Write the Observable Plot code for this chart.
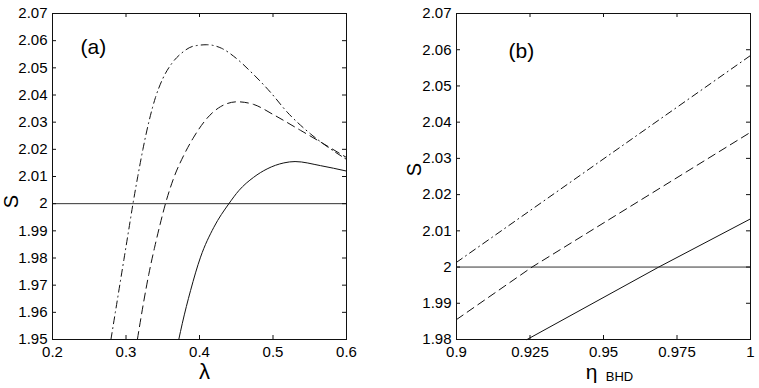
<!DOCTYPE html>
<html>
<head>
<meta charset="utf-8">
<script src="https://cdn.jsdelivr.net/npm/d3@7"></script>
<script src="https://cdn.jsdelivr.net/npm/@observablehq/plot@0.6"></script>
<style>
  html, body { margin: 0; padding: 0; background: #fff; }
  #wrap { position: relative; width: 759px; height: 388px; background: #fff; }
  #wrap > svg { position: absolute; top: 0; }
</style>
</head>
<body>
<div id="wrap"></div>
<script>
// ---------- Panel (a): S vs lambda ----------
const lamDashDot = [0.2795, 0.2855, 0.2915, 0.2975, 0.3035, 0.3095, 0.316, 0.323, 0.331, 0.340, 0.350, 0.362, 0.376, 0.392, 0.410, 0.430, 0.450, 0.470, 0.4966, 0.5193, 0.551, 0.578, 0.600];
const sDashDot   = [1.950, 1.960, 1.970, 1.980, 1.990, 2.000, 2.010, 2.020, 2.030, 2.039, 2.046, 2.0515, 2.0555, 2.058, 2.0585, 2.0572, 2.0535, 2.0485, 2.041, 2.0337, 2.0257, 2.0202, 2.0163];

const lamDashed = [0.3155, 0.3235, 0.331, 0.339, 0.3465, 0.3537, 0.365, 0.3786, 0.3922, 0.4105, 0.4286, 0.4513, 0.474, 0.501, 0.5374, 0.569, 0.600];
const sDashed   = [1.950, 1.963, 1.974, 1.984, 1.9925, 2.000, 2.0095, 2.0178, 2.0245, 2.0315, 2.0357, 2.0375, 2.0365, 2.0327, 2.0270, 2.0220, 2.0170];

const lamSolid = [0.3718, 0.3765, 0.3878, 0.4014, 0.4195, 0.440, 0.4535, 0.4736, 0.492, 0.5147, 0.530, 0.5646, 0.600];
const sSolid   = [1.950, 1.9558, 1.968, 1.9803, 1.9913, 2.000, 2.0048, 2.0097, 2.0128, 2.0150, 2.0155, 2.0140, 2.0120];

const lamTicks = [0.2, 0.3, 0.4, 0.5, 0.6];
const sTicksA  = [1.95, 1.96, 1.97, 1.98, 1.99, 2.00, 2.01, 2.02, 2.03, 2.04, 2.05, 2.06, 2.07];

// ---------- Panel (b): S vs eta_BHD ----------
const etaDashDot = [0.9, 1.0];
const sDashDotB  = [2.0013, 2.0584];
const etaDashed  = [0.9, 0.9257, 1.0];
const sDashedB   = [1.9855, 2.000, 2.0372];
const etaSolid   = [0.924, 0.9688, 1.0];
const sSolidB    = [1.980, 2.000, 2.0133];

const etaTicks = [0.9, 0.925, 0.95, 0.975, 1.0];
const sTicksB  = [1.98, 1.99, 2.00, 2.01, 2.02, 2.03, 2.04, 2.05, 2.06, 2.07];

const threshold = [2];

const zip = (xs, ys) => xs.map((x, i) => ({x, y: ys[i]}));
const fmt = d => String(+d.toFixed(3));

const FONT = "'Liberation Sans', Arial, Helvetica, sans-serif";
const INK = "#111";
const DASH = "8,5";
const DASHDOT = "7,4,1,4";
const TICK = 4; // inward tick length in pixels

// axes in MATLAB style: labels outside, inward ticks on all four sides
function framedAxes(xTicks, yTicks, xDom, yDom, plotW, plotH) {
  const tx = (xDom[1] - xDom[0]) * TICK / plotW;
  const ty = (yDom[1] - yDom[0]) * TICK / plotH;
  return [
    Plot.axisX(xTicks, {anchor: "bottom", tickSize: 0, tickPadding: 7, tickFormat: fmt, label: null, fontSize: 15}),
    Plot.axisY(yTicks, {anchor: "left", tickSize: 0, tickPadding: 5, tickFormat: fmt, label: null, fontSize: 15}),
    Plot.ruleX(xTicks, {x: d => d, y1: () => yDom[0], y2: () => yDom[0] + ty, stroke: INK, strokeWidth: 1}),
    Plot.ruleX(xTicks, {x: d => d, y1: () => yDom[1], y2: () => yDom[1] - ty, stroke: INK, strokeWidth: 1}),
    Plot.ruleY(yTicks, {y: d => d, x1: () => xDom[0], x2: () => xDom[0] + tx, stroke: INK, strokeWidth: 1}),
    Plot.ruleY(yTicks, {y: d => d, x1: () => xDom[1], x2: () => xDom[1] - tx, stroke: INK, strokeWidth: 1}),
    Plot.frame({stroke: INK, strokeWidth: 1})
  ];
}

const xDomA = [0.2, 0.6], yDomA = [1.95, 2.07];
const panelA = Plot.plot({
  width: 380, height: 388,
  marginLeft: 52, marginRight: 34, marginTop: 13, marginBottom: 49,
  style: {fontFamily: FONT, fontSize: "15px", color: "#000", background: "transparent", overflow: "visible"},
  x: {domain: xDomA},
  y: {domain: yDomA},
  marks: [
    Plot.ruleY(threshold, {stroke: "#333", strokeWidth: 1}),
    Plot.line(zip(lamDashDot, sDashDot), {x: "x", y: "y", curve: "monotone-x", stroke: INK, strokeWidth: 1, strokeDasharray: DASHDOT}),
    Plot.line(zip(lamDashed, sDashed), {x: "x", y: "y", curve: "monotone-x", stroke: INK, strokeWidth: 1, strokeDasharray: DASH}),
    Plot.line(zip(lamSolid, sSolid), {x: "x", y: "y", curve: "monotone-x", stroke: INK, strokeWidth: 1}),
    ...framedAxes(lamTicks, sTicksA, xDomA, yDomA, 294, 326),
    Plot.text(["(a)"], {frameAnchor: "top-left", textAnchor: "start", lineAnchor: "top", dx: 28, dy: 26, fontSize: 21}),
    Plot.text(["S"], {frameAnchor: "left", textAnchor: "middle", dx: -41, dy: 25, rotate: -90, fontSize: 20}),
    Plot.text(["λ"], {frameAnchor: "bottom", textAnchor: "middle", dx: 5, dy: 39, fontSize: 22})
  ]
});

const xDomB = [0.9, 1.0], yDomB = [1.98, 2.07];
const panelB = Plot.plot({
  width: 379, height: 388,
  marginLeft: 76, marginRight: 9, marginTop: 13, marginBottom: 49,
  style: {fontFamily: FONT, fontSize: "15px", color: "#000", background: "transparent", overflow: "visible"},
  x: {domain: xDomB},
  y: {domain: yDomB},
  marks: [
    Plot.ruleY(threshold, {stroke: "#333", strokeWidth: 1}),
    Plot.line(zip(etaDashDot, sDashDotB), {x: "x", y: "y", stroke: INK, strokeWidth: 1, strokeDasharray: DASHDOT}),
    Plot.line(zip(etaDashed, sDashedB), {x: "x", y: "y", stroke: INK, strokeWidth: 1, strokeDasharray: DASH}),
    Plot.line(zip(etaSolid, sSolidB), {x: "x", y: "y", stroke: INK, strokeWidth: 1}),
    ...framedAxes(etaTicks, sTicksB, xDomB, yDomB, 294, 326),
    Plot.text(["(b)"], {frameAnchor: "top-left", textAnchor: "start", lineAnchor: "top", dx: 52, dy: 30, fontSize: 21}),
    Plot.text(["S"], {frameAnchor: "left", textAnchor: "middle", dx: -42, dy: -7, rotate: -90, fontSize: 20}),
    Plot.text(["η"], {frameAnchor: "bottom", textAnchor: "middle", dx: -12, dy: 39, fontSize: 21}),
    Plot.text(["BHD"], {frameAnchor: "bottom", textAnchor: "middle", dx: 16, dy: 41, fontSize: 13})
  ]
});

const wrap = document.getElementById("wrap");
panelA.style.left = "0px";
panelB.style.left = "380px";
wrap.appendChild(panelA);
wrap.appendChild(panelB);
</script>
</body>
</html>
